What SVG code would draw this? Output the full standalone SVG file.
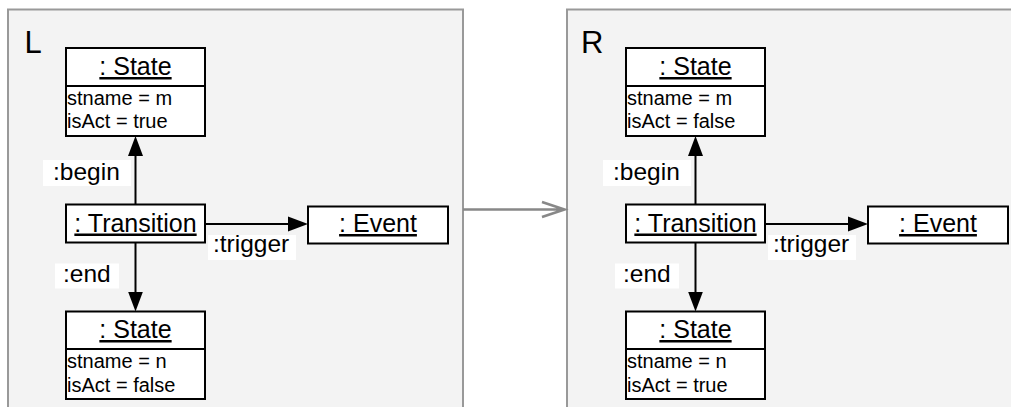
<svg xmlns="http://www.w3.org/2000/svg" width="1011" height="407" viewBox="0 0 1011 407">
<style>
.panel{fill:#f3f3f3;stroke:#999;stroke-width:2}
.box{fill:#fff;stroke:#000;stroke-width:2}
.div{stroke:#000;stroke-width:2}
.title{font-family:"Liberation Sans",Arial,sans-serif;font-size:25px;fill:#000;text-anchor:middle;text-decoration:underline}
.attr{font-family:"Liberation Sans",Arial,sans-serif;font-size:20px;fill:#000}
.plabel{font-family:"Liberation Sans",Arial,sans-serif;font-size:31px;fill:#000}
.lbl{font-family:"Liberation Sans",Arial,sans-serif;font-size:24.5px;fill:#000}
.lblbg{fill:#fff;stroke:none}
.edge{stroke:#000;stroke-width:2;fill:none;marker-end:url(#ah)}
.rule{stroke:#888;stroke-width:2.6;fill:none}
</style>
<defs>
<marker id="ah" markerUnits="userSpaceOnUse" markerWidth="20" markerHeight="16" viewBox="0 0 20 16" refX="10" refY="8" orient="auto">
<path d="M0,0.5 L20,8 L0,15.5 z" fill="#000"/>
</marker>
</defs>

<g id="panel-L">
<rect class="panel" x="8" y="9.5" width="455" height="420"/>
<text class="plabel" x="24.5" y="53">L</text>
</g>
<g id="panel-R">
<rect class="panel" x="567" y="9.5" width="460" height="420"/>
<text class="plabel" x="581" y="53">R</text>
</g>

<g id="connectors">
<path class="rule" d="M463,209.5 H564.5 M542,202 L564.5,209.5 L542,217"/>
<line class="edge" x1="135.5" y1="204" x2="135.5" y2="146"/>
<line class="edge" x1="135.5" y1="242" x2="135.5" y2="301.5"/>
<line class="edge" x1="205" y1="224" x2="298" y2="224"/>
<line class="edge" x1="695.5" y1="204" x2="695.5" y2="146"/>
<line class="edge" x1="695.5" y1="242" x2="695.5" y2="301.5"/>
<line class="edge" x1="765" y1="224" x2="858" y2="224"/>
<g id="label-L-begin"><rect class="lblbg" x="43" y="160" width="88" height="26"/><text class="lbl" x="53" y="179.5">:begin</text></g>
<g id="label-L-end"><rect class="lblbg" x="55" y="263.5" width="64" height="25"/><text class="lbl" x="63" y="281.5">:end</text></g>
<g id="label-L-trigger"><rect class="lblbg" x="208" y="235" width="88" height="25"/><text class="lbl" x="213" y="252">:trigger</text></g>
<g id="label-R-begin"><rect class="lblbg" x="603" y="160" width="88" height="26"/><text class="lbl" x="613" y="179.5">:begin</text></g>
<g id="label-R-end"><rect class="lblbg" x="615" y="263.5" width="64" height="25"/><text class="lbl" x="623" y="281.5">:end</text></g>
<g id="label-R-trigger"><rect class="lblbg" x="768" y="235" width="88" height="25"/><text class="lbl" x="773" y="252">:trigger</text></g>
</g>

<g id="L-state-top">
<rect class="box" x="66" y="48" width="139" height="88"/>
<line class="div" x1="66" y1="86" x2="205" y2="86"/>
<text class="title" x="135.5" y="75">: State</text>
<text class="attr" x="67" y="104.5">stname = m</text>
<text class="attr" x="67" y="128">isAct = true</text>
</g>
<g id="L-transition">
<rect class="box" x="66" y="204.5" width="139" height="38"/>
<text class="title" x="135.5" y="231.5">: Transition</text>
</g>
<g id="L-event">
<rect class="box" x="308" y="206.5" width="140" height="37"/>
<text class="title" x="378" y="232">: Event</text>
</g>
<g id="L-state-bottom">
<rect class="box" x="66" y="311.5" width="139" height="87.5"/>
<line class="div" x1="66" y1="349" x2="205" y2="349"/>
<text class="title" x="135.5" y="338">: State</text>
<text class="attr" x="67" y="368">stname = n</text>
<text class="attr" x="67" y="391.5">isAct = false</text>
</g>

<g id="R-state-top">
<rect class="box" x="626" y="48" width="139" height="88"/>
<line class="div" x1="626" y1="86" x2="765" y2="86"/>
<text class="title" x="695.5" y="75">: State</text>
<text class="attr" x="627" y="104.5">stname = m</text>
<text class="attr" x="627" y="128">isAct = false</text>
</g>
<g id="R-transition">
<rect class="box" x="626" y="204.5" width="139" height="38"/>
<text class="title" x="695.5" y="231.5">: Transition</text>
</g>
<g id="R-event">
<rect class="box" x="868" y="206.5" width="140" height="37"/>
<text class="title" x="938" y="232">: Event</text>
</g>
<g id="R-state-bottom">
<rect class="box" x="626" y="311.5" width="139" height="87.5"/>
<line class="div" x1="626" y1="349" x2="765" y2="349"/>
<text class="title" x="695.5" y="338">: State</text>
<text class="attr" x="627" y="368">stname = n</text>
<text class="attr" x="627" y="391.5">isAct = true</text>
</g>
</svg>
